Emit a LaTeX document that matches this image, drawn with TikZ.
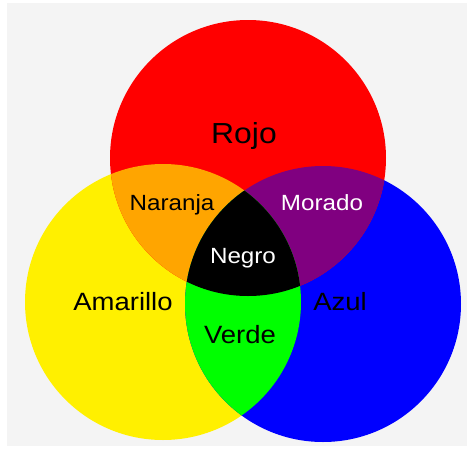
\documentclass[tikz,border=0pt]{standalone}
\usepackage{fontspec}
\setmainfont[FakeStretch=1.1]{Liberation Sans}
\usepackage{tikz}
\usetikzlibrary{positioning}

\definecolor{bggray}{HTML}{F4F4F4}
\definecolor{rojo}{HTML}{FF0000}
\definecolor{amarillo}{HTML}{FFF000}
\definecolor{azul}{HTML}{0000FF}
\definecolor{naranja}{HTML}{FFA500}
\definecolor{morado}{HTML}{800080}
\definecolor{verde}{HTML}{00FF00}

\begin{document}
\begin{tikzpicture}[
    x=1pt, y=-1pt,
    big/.style={anchor=base, font=\fontsize{29}{30}\selectfont},
    mid/.style={anchor=base, font=\fontsize{25}{26}\selectfont},
    small/.style={anchor=base, font=\fontsize{22}{23}\selectfont}
]
    \useasboundingbox (0,0) rectangle (467,451);
    \fill[white] (0,0) rectangle (467,451);
    \fill[bggray] (7,3) rectangle (467,446);

    % the three primaries
    \def\rad{138}
    \fill[amarillo] (163,302) circle (\rad);
    \fill[azul] (323,304) circle (\rad);
    \fill[rojo] (248,158) circle (\rad);

    % overlaps
    \begin{scope}
        \clip (248,158) circle (\rad);
        \fill[naranja] (163,302) circle (\rad);
        \fill[morado] (323,304) circle (\rad);
    \end{scope}
    \begin{scope}
        \clip (163,302) circle (\rad);
        \fill[verde] (323,304) circle (\rad);
        \clip (248,158) circle (\rad);
        \fill[black] (323,304) circle (\rad);
    \end{scope}

    \node[big] (rojo) at (244,143) {Rojo};
    \node[small] (naranja) at (172,210) {Naranja};
    \node[small, text=white] (morado) at (322,210) {Morado};
    \node[small, text=white] (negro) at (243,263) {Negro};
    \node[mid] (amarillo) at (123,310) {Amarillo};
    \node[mid] (azul) at (340,310) {Azul};
    \node[mid] (verde) at (240,343) {Verde};
\end{tikzpicture}
\end{document}
